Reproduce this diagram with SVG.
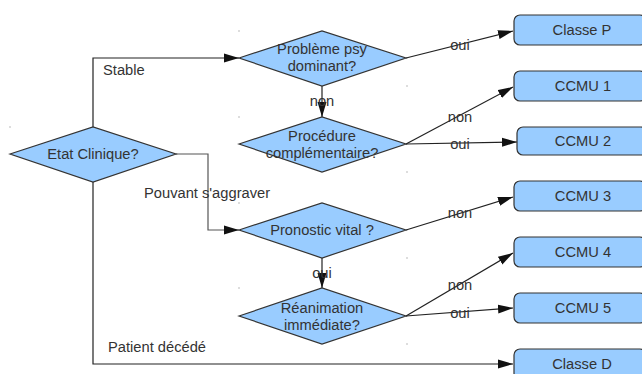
<svg xmlns="http://www.w3.org/2000/svg" width="642" height="374" viewBox="0 0 642 374">
<style>
  .dia{fill:#99ccff;stroke:#333;stroke-width:1.2}
  .box{fill:#99ccff;stroke:#333;stroke-width:1.2}
  .t{font-family:"Liberation Sans",Arial,sans-serif;font-size:14.7px;fill:#333;text-anchor:middle}
  .l{font-family:"Liberation Sans",Arial,sans-serif;font-size:14.7px;fill:#333}
  .c{fill:none;stroke:#222;stroke-width:1.2}
  .dot{fill:#777}
</style>
<defs>
  <marker id="arr" markerUnits="userSpaceOnUse" markerWidth="16" markerHeight="10" refX="15" refY="5" orient="auto">
    <path d="M0,0.5 L15,5 L0,9.5 z" fill="#111"/>
  </marker>
</defs>
<rect width="642" height="374" fill="#fff"/>

<g id="connectors">
  <polyline class="c" points="93,127 93,58 239,58" marker-end="url(#arr)"/>
  <polyline class="c" points="176,154 208,154 208,230 239,230" style="stroke:#555" marker-end="url(#arr)"/>
  <polyline class="c" points="93,182 93,364 513,364" marker-end="url(#arr)"/>
  <line class="c" x1="322" y1="86" x2="322" y2="117" marker-end="url(#arr)"/>
  <line class="c" x1="322" y1="258" x2="322" y2="288" marker-end="url(#arr)"/>
  <line class="c" x1="406" y1="58" x2="513" y2="31" marker-end="url(#arr)"/>
  <line class="c" x1="406" y1="144" x2="513" y2="87" marker-end="url(#arr)"/>
  <line class="c" x1="406" y1="144" x2="517" y2="142" marker-end="url(#arr)"/>
  <line class="c" x1="406" y1="230" x2="513" y2="197" marker-end="url(#arr)"/>
  <line class="c" x1="406" y1="316" x2="513" y2="253" marker-end="url(#arr)"/>
  <line class="c" x1="406" y1="316" x2="513" y2="308" marker-end="url(#arr)"/>
  <text class="l" x="103" y="75">Stable</text>
  <text class="l" x="144" y="198">Pouvant s'aggraver</text>
  <text class="l" x="108" y="352">Patient décédé</text>
  <text class="t" x="322" y="106">non</text>
  <text class="t" x="322" y="278">oui</text>
  <text class="t" x="460" y="50">oui</text>
  <text class="t" x="460" y="122">non</text>
  <text class="t" x="460" y="149">oui</text>
  <text class="t" x="460" y="218">non</text>
  <text class="t" x="460" y="290">non</text>
  <text class="t" x="460" y="318">oui</text>
</g>

<g id="etat">
  <polygon class="dia" points="10,154 93,127 176,154 93,182"/>
  <text class="t" x="93" y="159">Etat Clinique?</text>
</g>
<g id="probleme">
  <polygon class="dia" points="239,58 322,31 406,58 322,86"/>
  <text class="t" x="322" y="54">Problème psy</text>
  <text class="t" x="322" y="71">dominant?</text>
</g>
<g id="procedure">
  <polygon class="dia" points="239,144 322,117 406,144 322,172"/>
  <text class="t" x="322" y="141">Procédure</text>
  <text class="t" x="322" y="158">complémentaire?</text>
</g>
<g id="pronostic">
  <polygon class="dia" points="239,230 322,203 406,230 322,258"/>
  <text class="t" x="322" y="235">Pronostic vital ?</text>
</g>
<g id="reanimation">
  <polygon class="dia" points="239,316 322,288 406,316 322,344"/>
  <text class="t" x="322" y="313">Réanimation</text>
  <text class="t" x="322" y="330">immédiate?</text>
</g>

<g id="classeP"><rect class="box" x="514" y="15" width="132" height="30" rx="6"/><text class="t" x="582" y="35">Classe P</text></g>
<g id="ccmu1"><rect class="box" x="514" y="71" width="132" height="30" rx="6"/><text class="t" x="583" y="91">CCMU 1</text></g>
<g id="ccmu2"><rect class="box" x="517" y="127" width="130" height="28" rx="6"/><text class="t" x="583" y="146">CCMU 2</text></g>
<g id="ccmu3"><rect class="box" x="514" y="181" width="132" height="30" rx="6"/><text class="t" x="583" y="201">CCMU 3</text></g>
<g id="ccmu4"><rect class="box" x="514" y="237" width="132" height="30" rx="6"/><text class="t" x="583" y="257">CCMU 4</text></g>
<g id="ccmu5"><rect class="box" x="514" y="293" width="132" height="30" rx="6"/><text class="t" x="583" y="313">CCMU 5</text></g>
<g id="classeD"><rect class="box" x="514" y="349" width="132" height="30" rx="6"/><text class="t" x="582" y="369">Classe D</text></g>

<g id="handles">
  <rect class="dot" x="9.5" y="126.5" width="1" height="1"/>
  <rect class="dot" x="238.5" y="30.5" width="1" height="1"/>
  <rect class="dot" x="406.5" y="85.5" width="1" height="1"/>
  <rect class="dot" x="238.5" y="116.5" width="1" height="1"/>
  <rect class="dot" x="406.5" y="171.5" width="1" height="1"/>
  <rect class="dot" x="238.5" y="202.5" width="1" height="1"/>
  <rect class="dot" x="406.5" y="257.5" width="1" height="1"/>
  <rect class="dot" x="238.5" y="287.5" width="1" height="1"/>
  <rect class="dot" x="406.5" y="343.5" width="1" height="1"/>
</g>
</svg>
